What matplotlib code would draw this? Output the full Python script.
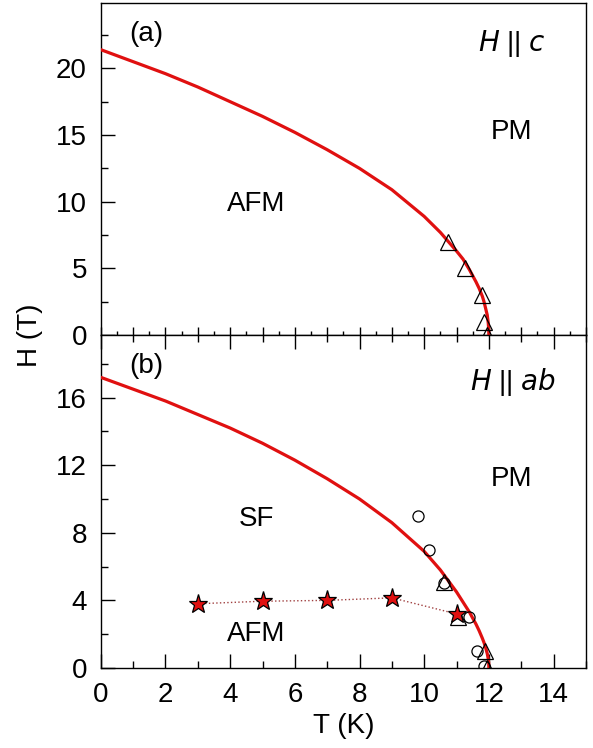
import numpy as np
import matplotlib.pyplot as plt
from matplotlib.ticker import MultipleLocator

plt.rcParams['font.family'] = ['Liberation Sans', 'DejaVu Sans']

# (a) H || c : phase boundary (red line) and data (triangles)
t_line_a = [0, 1, 2, 3, 4, 5, 6, 7, 8, 9, 10, 10.5, 11, 11.2, 11.4, 11.6, 11.7, 11.8,
            11.85, 11.9, 11.95, 11.98, 11.995, 12.0]
h_line_a = [21.4, 20.5, 19.6, 18.6, 17.5, 16.4, 15.2, 13.9, 12.5, 10.9, 8.9, 7.7, 6.3, 5.7, 4.9, 4.0, 3.5, 2.9,
            2.5, 2.0, 1.5, 0.93, 0.47, 0]
t_tri_a = [10.75, 11.27, 11.78, 11.86, 11.94]
h_tri_a = [7, 5, 3, 1, 0]

# (b) H || ab
t_line_b = [0, 1, 2, 3, 4, 5, 6, 7, 8, 9, 10, 10.5, 11, 11.2, 11.4, 11.6, 11.7, 11.8,
            11.85, 11.9, 11.95, 11.98, 11.995, 12.0]
h_line_b = [17.2, 16.5, 15.8, 15.0, 14.2, 13.3, 12.3, 11.2, 10.0, 8.6, 6.9, 5.8, 4.5, 3.9, 3.3, 2.6, 2.2, 1.75,
            1.5, 1.2, 0.85, 0.55, 0.3, 0]
t_circ_b = [9.8, 10.15, 10.6, 11.4, 11.62, 11.86]
h_circ_b = [9, 7, 5.0, 3.0, 1.0, 0.1]
t_tri_b = [10.6, 11.05, 11.88, 11.95]
h_tri_b = [5.1, 3.0, 1.0, 0]
t_star = [3, 5, 7, 9, 11]
h_star = [3.8, 3.95, 4.0, 4.15, 3.2]

fig = plt.figure(figsize=(5.93, 7.48), dpi=100)
ax1 = fig.add_axes([0.170, 0.552, 0.818, 0.444])
ax2 = fig.add_axes([0.170, 0.107, 0.818, 0.445])

red = '#e01010'
fs = 20

# panel (a)
ax1.plot(t_line_a, h_line_a, color=red, lw=2.3, zorder=3)
ax1.plot(t_tri_a, h_tri_a, '^', ms=11, mfc='none', mec='black', mew=0.9, zorder=4)
ax1.set_xlim(0, 15)
ax1.set_ylim(0, 24.9)
ax1.yaxis.set_major_locator(MultipleLocator(5))
ax1.yaxis.set_minor_locator(MultipleLocator(2.5))
ax1.xaxis.set_major_locator(MultipleLocator(1))
ax1.xaxis.set_minor_locator(MultipleLocator(0.5))
ax1.tick_params(axis='x', which='major', direction='in', length=6, width=1, labelbottom=False)
ax1.tick_params(axis='x', which='minor', direction='in', length=3, width=1)
ax1.tick_params(axis='y', which='major', direction='in', length=10, width=1, labelsize=fs, pad=10)
ax1.tick_params(axis='y', which='minor', direction='in', length=5, width=1)
ax1.text(1.4, 22.6, '(a)', fontsize=fs, ha='center', va='center')
ax1.text(12.7, 21.9, r'$\it{H}$ || $\it{c}$', fontsize=fs, ha='center', va='center')
ax1.text(12.7, 15.2, 'PM', fontsize=fs, ha='center', va='center')
ax1.text(4.8, 9.8, 'AFM', fontsize=fs, ha='center', va='center')

# panel (b)
ax2.plot(t_line_b, h_line_b, color=red, lw=2.3, zorder=3)
ax2.plot(t_star, h_star, ':', color='#a04040', lw=1, zorder=2)
ax2.plot(t_circ_b, h_circ_b, 'o', ms=8, mfc='none', mec='black', mew=0.9, zorder=4)
ax2.plot(t_tri_b, h_tri_b, '^', ms=11, mfc='none', mec='black', mew=0.9, zorder=4)
ax2.plot(t_star, h_star, '*', ms=14, mfc=red, mec='black', mew=0.9, zorder=5)
ax2.set_xlim(0, 15)
ax2.set_ylim(0, 19.7)
ax2.yaxis.set_major_locator(MultipleLocator(4))
ax2.yaxis.set_minor_locator(MultipleLocator(2))
ax2.xaxis.set_major_locator(MultipleLocator(2))
ax2.xaxis.set_minor_locator(MultipleLocator(1))
ax2.tick_params(axis='x', which='major', direction='in', length=10, width=1, labelsize=fs, pad=10, top=True)
ax2.tick_params(axis='x', which='minor', direction='in', length=5, width=1, top=True)
ax2.tick_params(axis='y', which='major', direction='in', length=10, width=1, labelsize=fs, pad=10)
ax2.tick_params(axis='y', which='minor', direction='in', length=5, width=1)
ax2.text(1.4, 17.9, '(b)', fontsize=fs, ha='center', va='center')
ax2.text(12.75, 16.9, r'$\it{H}$ || $\it{ab}$', fontsize=fs, ha='center', va='center')
ax2.text(12.7, 11.2, 'PM', fontsize=fs, ha='center', va='center')
ax2.text(4.8, 8.8, 'SF', fontsize=fs, ha='center', va='center')
ax2.text(4.8, 2.0, 'AFM', fontsize=fs, ha='center', va='center')
ax2.set_xlabel('T (K)', fontsize=fs, labelpad=4)

for ax in (ax1, ax2):
    for s in ax.spines.values():
        s.set_linewidth(1)

fig.text(0.05, 1 - 335 / 748, 'H (T)', rotation=90, fontsize=fs, ha='center', va='center')

fig.savefig('out.png', dpi=100)
